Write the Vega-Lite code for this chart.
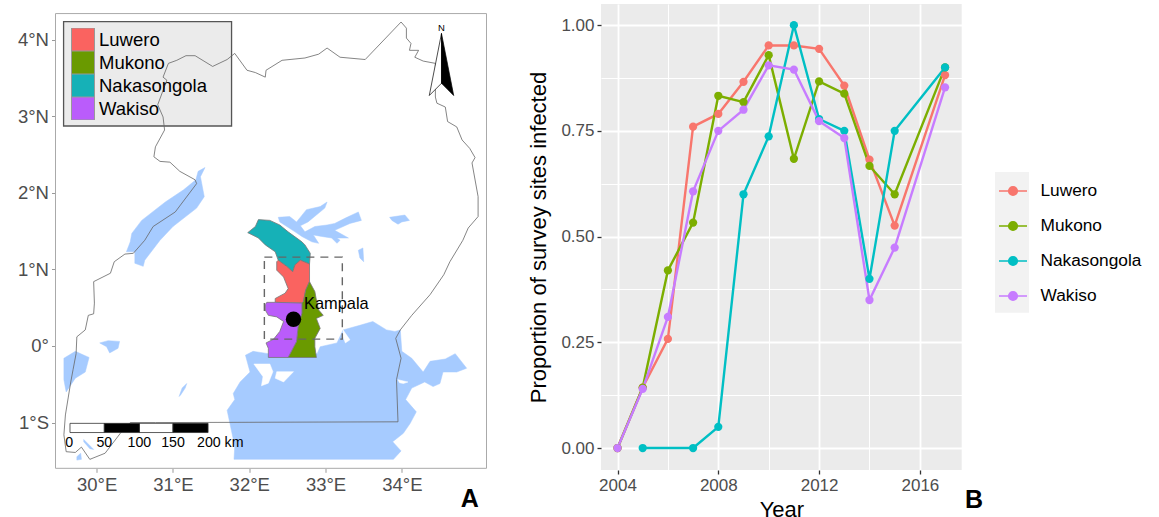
{
"$schema":"https://vega.github.io/schema/vega-lite/v6.json",
"padding":{"left":16.5,"top":4,"right":0,"bottom":0},
"background":"white",
"bounds":"flush",
"spacing":114.5,
"config":{"font":"Liberation Sans","view":{"stroke":null},"axis":{"labelFont":"Liberation Sans","titleFont":"Liberation Sans"},"legend":{"labelFont":"Liberation Sans"}},
"datasets":{
"country":[
{"id":"u","lon":31.81,"lat":3.82},{"id":"u","lon":31.97,"lat":3.60},{"id":"u","lon":32.08,"lat":3.57},{"id":"u","lon":32.21,"lat":3.51},{"id":"u","lon":32.22,"lat":3.60},{"id":"u","lon":32.43,"lat":3.73},{"id":"u","lon":32.73,"lat":3.76},{"id":"u","lon":32.91,"lat":3.81},{"id":"u","lon":33.02,"lat":3.89},{"id":"u","lon":33.19,"lat":3.77},{"id":"u","lon":33.52,"lat":3.74},{"id":"u","lon":33.99,"lat":4.23},{"id":"u","lon":34.06,"lat":4.15},{"id":"u","lon":34.06,"lat":4.02},{"id":"u","lon":34.12,"lat":3.95},{"id":"u","lon":34.10,"lat":3.86},{"id":"u","lon":34.22,"lat":3.86},{"id":"u","lon":34.17,"lat":3.77},{"id":"u","lon":34.28,"lat":3.72},{"id":"u","lon":34.44,"lat":3.69},{"id":"u","lon":34.44,"lat":3.25},{"id":"u","lon":34.46,"lat":3.17},{"id":"u","lon":34.57,"lat":3.12},{"id":"u","lon":34.60,"lat":2.93},{"id":"u","lon":34.72,"lat":2.86},{"id":"u","lon":34.79,"lat":2.69},{"id":"u","lon":34.89,"lat":2.58},{"id":"u","lon":34.96,"lat":2.46},{"id":"u","lon":34.92,"lat":2.39},{"id":"u","lon":35.00,"lat":1.95},{"id":"u","lon":35.00,"lat":1.69},{"id":"u","lon":34.87,"lat":1.54},{"id":"u","lon":34.80,"lat":1.38},{"id":"u","lon":34.63,"lat":1.10},{"id":"u","lon":34.55,"lat":0.93},{"id":"u","lon":34.37,"lat":0.67},{"id":"u","lon":34.13,"lat":0.40},{"id":"u","lon":33.98,"lat":0.21},{"id":"u","lon":33.92,"lat":0.10},{"id":"u","lon":33.99,"lat":-0.16},{"id":"u","lon":33.93,"lat":-0.44},{"id":"u","lon":33.95,"lat":-0.99},{"id":"u","lon":30.77,"lat":-1.00},{"id":"u","lon":30.44,"lat":-1.00},{"id":"u","lon":30.31,"lat":-1.14},{"id":"u","lon":30.11,"lat":-1.40},{"id":"u","lon":29.91,"lat":-1.48},{"id":"u","lon":29.80,"lat":-1.32},{"id":"u","lon":29.72,"lat":-1.39},{"id":"u","lon":29.60,"lat":-1.38},{"id":"u","lon":29.57,"lat":-1.16},{"id":"u","lon":29.59,"lat":-0.90},{"id":"u","lon":29.66,"lat":-0.47},{"id":"u","lon":29.69,"lat":-0.31},{"id":"u","lon":29.73,"lat":-0.10},{"id":"u","lon":29.74,"lat":0.12},{"id":"u","lon":29.85,"lat":0.21},{"id":"u","lon":29.89,"lat":0.40},{"id":"u","lon":29.96,"lat":0.42},{"id":"u","lon":29.97,"lat":0.56},{"id":"u","lon":29.96,"lat":0.84},{"id":"u","lon":30.18,"lat":0.95},{"id":"u","lon":30.23,"lat":1.10},{"id":"u","lon":30.37,"lat":1.20},{"id":"u","lon":30.48,"lat":1.21},{"id":"u","lon":30.63,"lat":1.38},{"id":"u","lon":30.74,"lat":1.56},{"id":"u","lon":31.03,"lat":1.75},{"id":"u","lon":31.31,"lat":2.12},{"id":"u","lon":31.29,"lat":2.17},{"id":"u","lon":31.09,"lat":2.28},{"id":"u","lon":30.96,"lat":2.40},{"id":"u","lon":30.83,"lat":2.41},{"id":"u","lon":30.75,"lat":2.47},{"id":"u","lon":30.77,"lat":2.60},{"id":"u","lon":30.89,"lat":2.82},{"id":"u","lon":30.87,"lat":2.99},{"id":"u","lon":30.80,"lat":3.15},{"id":"u","lon":30.92,"lat":3.47},{"id":"u","lon":30.87,"lat":3.51},{"id":"u","lon":30.94,"lat":3.69},{"id":"u","lon":31.05,"lat":3.73},{"id":"u","lon":31.17,"lat":3.79},{"id":"u","lon":31.29,"lat":3.79},{"id":"u","lon":31.52,"lat":3.65},{"id":"u","lon":31.71,"lat":3.74}
],
"lakes":[
{"id":"albert","lon":31.42,"lat":2.33},{"id":"albert","lon":31.36,"lat":2.21},{"id":"albert","lon":31.41,"lat":1.95},{"id":"albert","lon":31.31,"lat":1.80},{"id":"albert","lon":31.00,"lat":1.56},{"id":"albert","lon":30.83,"lat":1.38},{"id":"albert","lon":30.63,"lat":1.12},{"id":"albert","lon":30.61,"lat":1.04},{"id":"albert","lon":30.50,"lat":1.08},{"id":"albert","lon":30.50,"lat":1.23},{"id":"albert","lon":30.39,"lat":1.23},{"id":"albert","lon":30.44,"lat":1.36},{"id":"albert","lon":30.46,"lat":1.47},{"id":"albert","lon":30.59,"lat":1.64},{"id":"albert","lon":30.90,"lat":1.88},{"id":"albert","lon":31.14,"lat":2.04},{"id":"albert","lon":31.30,"lat":2.17},{"id":"albert","lon":31.33,"lat":2.28},
{"id":"edward","lon":29.57,"lat":-0.16},{"id":"edward","lon":29.72,"lat":-0.07},{"id":"edward","lon":29.90,"lat":-0.15},{"id":"edward","lon":29.85,"lat":-0.34},{"id":"edward","lon":29.72,"lat":-0.42},{"id":"edward","lon":29.60,"lat":-0.60},{"id":"edward","lon":29.57,"lat":-0.44},
{"id":"george","lon":30.04,"lat":0.04},{"id":"george","lon":30.15,"lat":0.07},{"id":"george","lon":30.30,"lat":0.06},{"id":"george","lon":30.28,"lat":-0.03},{"id":"george","lon":30.17,"lat":-0.09},{"id":"george","lon":30.13,"lat":-0.01},
{"id":"slit","lon":31.18,"lat":-0.49},{"id":"slit","lon":31.12,"lat":-0.55},{"id":"slit","lon":31.08,"lat":-0.66},{"id":"slit","lon":31.10,"lat":-0.64},{"id":"slit","lon":31.16,"lat":-0.55},
{"id":"sw1","lon":29.74,"lat":-1.445},{"id":"sw1","lon":29.79,"lat":-1.40},{"id":"sw1","lon":29.80,"lat":-1.48},{"id":"sw1","lon":29.74,"lat":-1.49},
{"id":"sw2","lon":29.83,"lat":-1.22},{"id":"sw2","lon":29.96,"lat":-1.35},{"id":"sw2","lon":29.91,"lat":-1.34},{"id":"sw2","lon":29.83,"lat":-1.25},
{"id":"victoria","lon":31.80,"lat":-1.48},{"id":"victoria","lon":31.81,"lat":-1.31},{"id":"victoria","lon":31.71,"lat":-0.84},{"id":"victoria","lon":31.81,"lat":-0.70},{"id":"victoria","lon":31.79,"lat":-0.62},{"id":"victoria","lon":31.88,"lat":-0.47},{"id":"victoria","lon":32.01,"lat":-0.34},{"id":"victoria","lon":31.95,"lat":-0.12},{"id":"victoria","lon":32.05,"lat":-0.07},{"id":"victoria","lon":32.25,"lat":-0.10},{"id":"victoria","lon":32.89,"lat":-0.10},{"id":"victoria","lon":32.93,"lat":-0.01},{"id":"victoria","lon":33.15,"lat":0.04},{"id":"victoria","lon":33.23,"lat":0.21},{"id":"victoria","lon":33.45,"lat":0.27},{"id":"victoria","lon":33.62,"lat":0.32},{"id":"victoria","lon":33.80,"lat":0.21},{"id":"victoria","lon":33.91,"lat":0.19},{"id":"victoria","lon":33.98,"lat":0.21},{"id":"victoria","lon":34.00,"lat":-0.07},{"id":"victoria","lon":34.13,"lat":-0.16},{"id":"victoria","lon":34.28,"lat":-0.34},{"id":"victoria","lon":34.37,"lat":-0.20},{"id":"victoria","lon":34.57,"lat":-0.17},{"id":"victoria","lon":34.70,"lat":-0.10},{"id":"victoria","lon":34.85,"lat":-0.29},{"id":"victoria","lon":34.72,"lat":-0.34},{"id":"victoria","lon":34.54,"lat":-0.34},{"id":"victoria","lon":34.50,"lat":-0.49},{"id":"victoria","lon":34.41,"lat":-0.53},{"id":"victoria","lon":34.30,"lat":-0.47},{"id":"victoria","lon":34.13,"lat":-0.55},{"id":"victoria","lon":34.05,"lat":-0.70},{"id":"victoria","lon":34.19,"lat":-0.86},{"id":"victoria","lon":34.11,"lat":-1.01},{"id":"victoria","lon":34.02,"lat":-1.14},{"id":"victoria","lon":33.88,"lat":-1.25},{"id":"victoria","lon":33.99,"lat":-1.37},{"id":"victoria","lon":33.89,"lat":-1.48},
{"id":"kyoga","lon":32.38,"lat":1.68},{"id":"kyoga","lon":32.53,"lat":1.69},{"id":"kyoga","lon":32.62,"lat":1.62},{"id":"kyoga","lon":32.75,"lat":1.78},{"id":"kyoga","lon":32.93,"lat":1.82},{"id":"kyoga","lon":33.02,"lat":1.88},{"id":"kyoga","lon":32.99,"lat":1.80},{"id":"kyoga","lon":32.88,"lat":1.71},{"id":"kyoga","lon":32.77,"lat":1.62},{"id":"kyoga","lon":32.67,"lat":1.57},{"id":"kyoga","lon":32.73,"lat":1.49},{"id":"kyoga","lon":32.86,"lat":1.56},{"id":"kyoga","lon":33.02,"lat":1.58},{"id":"kyoga","lon":33.12,"lat":1.60},{"id":"kyoga","lon":33.26,"lat":1.67},{"id":"kyoga","lon":33.43,"lat":1.75},{"id":"kyoga","lon":33.47,"lat":1.64},{"id":"kyoga","lon":33.32,"lat":1.60},{"id":"kyoga","lon":33.12,"lat":1.51},{"id":"kyoga","lon":33.30,"lat":1.41},{"id":"kyoga","lon":33.15,"lat":1.41},{"id":"kyoga","lon":33.19,"lat":1.38},{"id":"kyoga","lon":33.15,"lat":1.34},{"id":"kyoga","lon":33.08,"lat":1.41},{"id":"kyoga","lon":32.95,"lat":1.43},{"id":"kyoga","lon":32.84,"lat":1.45},{"id":"kyoga","lon":32.91,"lat":1.34},{"id":"kyoga","lon":32.82,"lat":1.36},{"id":"kyoga","lon":32.69,"lat":1.43},{"id":"kyoga","lon":32.60,"lat":1.49},{"id":"kyoga","lon":32.40,"lat":1.62},
{"id":"small1","lon":33.43,"lat":1.25},{"id":"small1","lon":33.49,"lat":1.28},{"id":"small1","lon":33.50,"lat":1.10},{"id":"small1","lon":33.45,"lat":1.15},
{"id":"small2","lon":33.84,"lat":1.68},{"id":"small2","lon":34.04,"lat":1.71},{"id":"small2","lon":34.10,"lat":1.64},{"id":"small2","lon":34.00,"lat":1.62},{"id":"small2","lon":33.95,"lat":1.59},{"id":"small2","lon":33.87,"lat":1.64}
],
"islands":[
{"id":"a","lon":32.06,"lat":-0.235},{"id":"a","lon":32.27,"lat":-0.235},{"id":"a","lon":32.31,"lat":-0.335},{"id":"a","lon":32.25,"lat":-0.485},{"id":"a","lon":32.16,"lat":-0.52},{"id":"a","lon":32.18,"lat":-0.40},
{"id":"b","lon":32.36,"lat":-0.335},{"id":"b","lon":32.58,"lat":-0.335},{"id":"b","lon":32.45,"lat":-0.47},{"id":"b","lon":32.34,"lat":-0.42},
{"id":"c","lon":33.95,"lat":-0.44},{"id":"c","lon":34.08,"lat":-0.47},{"id":"c","lon":34.02,"lat":-0.49},{"id":"c","lon":33.97,"lat":-0.48},
{"id":"e","lon":33.23,"lat":0.21},{"id":"e","lon":33.32,"lat":0.08},{"id":"e","lon":33.26,"lat":0.04},{"id":"e","lon":33.23,"lat":0.12}
],
"districts":[
{"name":"Nakasongola","lon":31.98,"lat":1.48},{"name":"Nakasongola","lon":32.08,"lat":1.56},{"name":"Nakasongola","lon":32.12,"lat":1.65},{"name":"Nakasongola","lon":32.27,"lat":1.64},{"name":"Nakasongola","lon":32.40,"lat":1.58},{"name":"Nakasongola","lon":32.51,"lat":1.49},{"name":"Nakasongola","lon":32.69,"lat":1.36},{"name":"Nakasongola","lon":32.73,"lat":1.32},{"name":"Nakasongola","lon":32.80,"lat":1.21},{"name":"Nakasongola","lon":32.79,"lat":1.07},{"name":"Nakasongola","lon":32.67,"lat":1.12},{"name":"Nakasongola","lon":32.60,"lat":1.06},{"name":"Nakasongola","lon":32.57,"lat":0.97},{"name":"Nakasongola","lon":32.49,"lat":1.04},{"name":"Nakasongola","lon":32.38,"lat":1.12},{"name":"Nakasongola","lon":32.34,"lat":1.23},{"name":"Nakasongola","lon":32.21,"lat":1.32},{"name":"Nakasongola","lon":32.12,"lat":1.41},
{"name":"Luwero","lon":32.36,"lat":1.10},{"name":"Luwero","lon":32.38,"lat":1.12},{"name":"Luwero","lon":32.49,"lat":1.04},{"name":"Luwero","lon":32.57,"lat":0.97},{"name":"Luwero","lon":32.60,"lat":1.06},{"name":"Luwero","lon":32.67,"lat":1.12},{"name":"Luwero","lon":32.79,"lat":1.07},{"name":"Luwero","lon":32.79,"lat":0.84},{"name":"Luwero","lon":32.74,"lat":0.73},{"name":"Luwero","lon":32.71,"lat":0.58},{"name":"Luwero","lon":32.69,"lat":0.56},{"name":"Luwero","lon":32.34,"lat":0.57},{"name":"Luwero","lon":32.34,"lat":0.62},{"name":"Luwero","lon":32.47,"lat":0.69},{"name":"Luwero","lon":32.51,"lat":0.75},{"name":"Luwero","lon":32.45,"lat":0.90},{"name":"Luwero","lon":32.36,"lat":0.99},
{"name":"Mukono","lon":32.79,"lat":0.84},{"name":"Mukono","lon":32.86,"lat":0.71},{"name":"Mukono","lon":32.88,"lat":0.60},{"name":"Mukono","lon":32.91,"lat":0.47},{"name":"Mukono","lon":32.97,"lat":0.40},{"name":"Mukono","lon":32.88,"lat":0.36},{"name":"Mukono","lon":32.93,"lat":0.23},{"name":"Mukono","lon":32.86,"lat":0.10},{"name":"Mukono","lon":32.86,"lat":-0.01},{"name":"Mukono","lon":32.88,"lat":-0.15},{"name":"Mukono","lon":32.51,"lat":-0.15},{"name":"Mukono","lon":32.62,"lat":0.06},{"name":"Mukono","lon":32.64,"lat":0.25},{"name":"Mukono","lon":32.69,"lat":0.43},{"name":"Mukono","lon":32.69,"lat":0.56},{"name":"Mukono","lon":32.71,"lat":0.58},{"name":"Mukono","lon":32.74,"lat":0.73},
{"name":"Wakiso","lon":32.21,"lat":0.54},{"name":"Wakiso","lon":32.23,"lat":0.57},{"name":"Wakiso","lon":32.34,"lat":0.57},{"name":"Wakiso","lon":32.69,"lat":0.56},{"name":"Wakiso","lon":32.69,"lat":0.43},{"name":"Wakiso","lon":32.64,"lat":0.25},{"name":"Wakiso","lon":32.62,"lat":0.06},{"name":"Wakiso","lon":32.51,"lat":-0.15},{"name":"Wakiso","lon":32.25,"lat":-0.15},{"name":"Wakiso","lon":32.25,"lat":-0.03},{"name":"Wakiso","lon":32.22,"lat":0.04},{"name":"Wakiso","lon":32.32,"lat":0.09},{"name":"Wakiso","lon":32.40,"lat":0.19},{"name":"Wakiso","lon":32.45,"lat":0.32},{"name":"Wakiso","lon":32.36,"lat":0.38},{"name":"Wakiso","lon":32.25,"lat":0.40},{"name":"Wakiso","lon":32.21,"lat":0.47}
],
"survey":[
{"district":"Luwero","year":2004,"p":0},{"district":"Luwero","year":2005,"p":0.143},{"district":"Luwero","year":2006,"p":0.258},{"district":"Luwero","year":2007,"p":0.76},{"district":"Luwero","year":2008,"p":0.79},{"district":"Luwero","year":2009,"p":0.866},{"district":"Luwero","year":2010,"p":0.952},{"district":"Luwero","year":2011,"p":0.952},{"district":"Luwero","year":2012,"p":0.944},{"district":"Luwero","year":2013,"p":0.857},{"district":"Luwero","year":2014,"p":0.682},{"district":"Luwero","year":2015,"p":0.526},{"district":"Luwero","year":2017,"p":0.882},
{"district":"Mukono","year":2004,"p":0},{"district":"Mukono","year":2005,"p":0.143},{"district":"Mukono","year":2006,"p":0.42},{"district":"Mukono","year":2007,"p":0.533},{"district":"Mukono","year":2008,"p":0.833},{"district":"Mukono","year":2009,"p":0.818},{"district":"Mukono","year":2010,"p":0.929},{"district":"Mukono","year":2011,"p":0.684},{"district":"Mukono","year":2012,"p":0.867},{"district":"Mukono","year":2013,"p":0.838},{"district":"Mukono","year":2014,"p":0.667},{"district":"Mukono","year":2015,"p":0.6},{"district":"Mukono","year":2017,"p":0.9},
{"district":"Nakasongola","year":2005,"p":0},{"district":"Nakasongola","year":2007,"p":0},{"district":"Nakasongola","year":2008,"p":0.05},{"district":"Nakasongola","year":2009,"p":0.6},{"district":"Nakasongola","year":2010,"p":0.737},{"district":"Nakasongola","year":2011,"p":1},{"district":"Nakasongola","year":2012,"p":0.778},{"district":"Nakasongola","year":2013,"p":0.75},{"district":"Nakasongola","year":2014,"p":0.4},{"district":"Nakasongola","year":2015,"p":0.75},{"district":"Nakasongola","year":2017,"p":0.9},
{"district":"Wakiso","year":2004,"p":0},{"district":"Wakiso","year":2005,"p":0.14},{"district":"Wakiso","year":2006,"p":0.31},{"district":"Wakiso","year":2007,"p":0.607},{"district":"Wakiso","year":2008,"p":0.75},{"district":"Wakiso","year":2009,"p":0.8},{"district":"Wakiso","year":2010,"p":0.905},{"district":"Wakiso","year":2011,"p":0.895},{"district":"Wakiso","year":2012,"p":0.773},{"district":"Wakiso","year":2013,"p":0.733},{"district":"Wakiso","year":2014,"p":0.35},{"district":"Wakiso","year":2015,"p":0.474},{"district":"Wakiso","year":2017,"p":0.853}
]
},
"hconcat":[
{
"width":431,"height":466,
"encoding":{
"x":{"field":"lon","type":"quantitative","scale":{"domain":[29.46,35.11],"nice":false,"zero":false},"axis":{"title":null,"values":[30,31,32,33,34],"labelExpr":"datum.value+'°E'","domain":false,"grid":false,"offset":-1.7,"tickColor":"#999999","tickSize":4,"tickWidth":1,"labelColor":"#4d4d4d","labelFontSize":18.5,"labelPadding":3}},
"y":{"field":"lat","type":"quantitative","scale":{"domain":[-1.619,4.465],"nice":false,"zero":false},"axis":{"title":null,"values":[-1,0,1,2,3,4],"labelExpr":"datum.value>0?datum.value+'°N':datum.value<0?(-datum.value)+'°S':'0°'","domain":false,"grid":false,"tickColor":"#999999","tickSize":4,"tickWidth":1,"labelColor":"#4d4d4d","labelFontSize":18.5,"labelPadding":3}}
},
"layer":[
{"data":{"values":[{"lon":29.46,"lon2":35.11,"lat":-1.597,"lat2":4.34}]},"mark":{"type":"rect","fill":"white","stroke":"#aaaaaa","strokeWidth":1},"encoding":{"x2":{"field":"lon2"},"y2":{"field":"lat2"}}},
{"data":{"values":[{"lon":29.566,"lon2":31.768,"lat":4.236,"lat2":2.872}]},"mark":{"type":"rect","fill":"#ebebeb","stroke":"#555555","strokeWidth":1.3},"encoding":{"x2":{"field":"lon2"},"y2":{"field":"lat2"}}},
{"data":{"name":"lakes"},"mark":{"type":"line","interpolate":"linear-closed","fill":"#a6cbff","stroke":"#a6cbff","strokeWidth":0.5},"encoding":{"detail":{"field":"id"},"order":{"value":null}}},
{"data":{"name":"islands"},"mark":{"type":"line","interpolate":"linear-closed","fill":"white","stroke":"white","strokeWidth":0.5},"encoding":{"detail":{"field":"id"},"order":{"value":null}}},
{"data":{"name":"country"},"mark":{"type":"line","interpolate":"linear-closed","stroke":"#666666","strokeWidth":0.8},"encoding":{"detail":{"field":"id"},"order":{"value":null}}},
{"data":{"name":"districts"},"mark":{"type":"line","interpolate":"linear-closed","stroke":"#777777","strokeWidth":0.8},"encoding":{"detail":{"field":"name"},"order":{"value":null},"fill":{"field":"name","type":"nominal","scale":{"domain":["Luwero","Mukono","Nakasongola","Wakiso"],"range":["#fa6360","#6a9a00","#16b1b7","#ba5cfb"]},"legend":{"title":null,"orient":"none","legendX":15.5,"legendY":24,"symbolType":"square","symbolSize":529,"symbolStrokeColor":"#999999","symbolStrokeWidth":1,"labelFontSize":18.5,"labelColor":"black","labelOffset":4,"clipHeight":23,"rowPadding":0,"padding":0,"labelLimit":200}}}},
{"data":{"values":[{"lon":32.198,"lon2":33.22,"lat":1.16,"lat2":0.09}]},"mark":{"type":"rect","fill":null,"stroke":"#666666","strokeWidth":1.4,"strokeDash":[8,6]},"encoding":{"x2":{"field":"lon2"},"y2":{"field":"lat2"}}},
{"data":{"values":[{"lon":32.58,"lat":0.35}]},"mark":{"type":"point","filled":true,"shape":"circle","size":237,"color":"black","opacity":1}},
{"data":{"values":[{"lon":32.718,"lat":0.548,"label":"Kampala"}]},"mark":{"type":"text","align":"left","baseline":"middle","fontSize":16.4,"color":"black"},"encoding":{"text":{"field":"label"}}},
{"data":{"values":[{"lon":29.65,"lon2":30.10,"lat":-1.01,"lat2":-1.13},{"lon":30.56,"lon2":31.00,"lat":-1.01,"lat2":-1.13}]},"mark":{"type":"rect","fill":"white","stroke":"#333333","strokeWidth":0.8},"encoding":{"x2":{"field":"lon2"},"y2":{"field":"lat2"}}},
{"data":{"values":[{"lon":30.10,"lon2":30.56,"lat":-1.01,"lat2":-1.13},{"lon":31.00,"lon2":31.46,"lat":-1.01,"lat2":-1.13}]},"mark":{"type":"rect","fill":"black","stroke":"#333333","strokeWidth":0.8},"encoding":{"x2":{"field":"lon2"},"y2":{"field":"lat2"}}},
{"data":{"values":[{"lon":29.64,"lat":-1.26,"label":"0"},{"lon":30.10,"lat":-1.26,"label":"50"},{"lon":30.56,"lat":-1.26,"label":"100"},{"lon":31.00,"lat":-1.26,"label":"150"},{"lon":31.62,"lat":-1.26,"label":"200 km"}]},"mark":{"type":"text","baseline":"middle","fontSize":14.2,"color":"black"},"encoding":{"text":{"field":"label"}}},
{"data":{"values":[{"lon":34.52,"lat":4.08},{"lon":34.36,"lat":3.27},{"lon":34.52,"lat":3.43}]},"mark":{"type":"line","interpolate":"linear-closed","fill":"white","stroke":"black","strokeWidth":0.7},"encoding":{"order":{"value":null}}},
{"data":{"values":[{"lon":34.52,"lat":4.08},{"lon":34.68,"lat":3.27},{"lon":34.52,"lat":3.43}]},"mark":{"type":"line","interpolate":"linear-closed","fill":"black","stroke":"black","strokeWidth":0.7},"encoding":{"order":{"value":null}}},
{"data":{"values":[{"lon":34.52,"lat":4.15,"label":"N"}]},"mark":{"type":"text","baseline":"middle","fontSize":9.5,"color":"black"},"encoding":{"text":{"field":"label"}}},
{"data":{"values":[{"lon":34.89,"lat":-2.0,"label":"A"}]},"mark":{"type":"text","baseline":"middle","fontSize":25,"fontWeight":"bold","color":"black"},"encoding":{"text":{"field":"label"}}}
]
},
{
"width":360.7,"height":466,
"view":{"fill":"#ebebeb","stroke":null},
"layer":[
{"data":{"values":[{"a":2018.98,"b":2020.33,"c":0.32,"d":0.653}]},"mark":{"type":"rect","fill":"#f2f2f2"},"encoding":{"x":{"field":"a","type":"quantitative"},"x2":{"field":"b"},"y":{"field":"c","type":"quantitative"},"y2":{"field":"d"}}},
{"data":{"name":"survey"},"mark":{"type":"line","strokeWidth":2.4},"encoding":{"x":{"field":"year","type":"quantitative"},"y":{"field":"p","type":"quantitative"},"color":{"field":"district","type":"nominal","scale":{"domain":["Luwero","Mukono","Nakasongola","Wakiso"],"range":["#F8766D","#7CAE00","#00BFC4","#C77CFF"]},"legend":{"title":null,"orient":"none","legendX":397,"legendY":172,"symbolType":"M-1,0L-0.31,0A0.31,0.31,0,1,1,0.31,0L1,0M0.31,0A0.31,0.31,0,1,1,-0.31,0","symbolSize":784,"symbolStrokeWidth":1.5,"labelFontSize":17.3,"labelColor":"black","labelOffset":12.5,"rowPadding":11,"padding":0,"labelLimit":200}}}},
{"data":{"name":"survey"},"mark":{"type":"point","filled":true,"shape":"circle","size":68,"opacity":1},"encoding":{"x":{"field":"year","type":"quantitative"},"y":{"field":"p","type":"quantitative"},"color":{"field":"district","type":"nominal","scale":{"domain":["Luwero","Mukono","Nakasongola","Wakiso"],"range":["#F8766D","#7CAE00","#00BFC4","#C77CFF"]},"legend":{"title":null,"orient":"none","legendX":397,"legendY":172,"symbolType":"M-1,0L-0.31,0A0.31,0.31,0,1,1,0.31,0L1,0M0.31,0A0.31,0.31,0,1,1,-0.31,0","symbolSize":784,"symbolStrokeWidth":1.5,"labelFontSize":17.3,"labelColor":"black","labelOffset":12.5,"rowPadding":11,"padding":0,"labelLimit":200}}}},
{"data":{"values":[{"a":2018.15,"c":-0.123,"label":"B"}]},"mark":{"type":"text","baseline":"middle","fontSize":25,"fontWeight":"bold","color":"black"},"encoding":{"x":{"field":"a","type":"quantitative"},"y":{"field":"c","type":"quantitative"},"text":{"field":"label"}}}
],
"encoding":{
"x":{"scale":{"domain":[2003.345,2017.66],"nice":false,"zero":false},"axis":{"title":"Year","values":[2004,2006,2008,2010,2012,2014,2016],"labelExpr":"datum.value%4===0?datum.value:''","domain":false,"grid":true,"gridColor":"white","gridWidth":{"condition":{"test":"datum.value%4===0","value":1.8},"value":1},"tickColor":"#333333","tickWidth":1.3,"tickSize":{"condition":{"test":"datum.value%4===0","value":4},"value":0},"labelColor":"#4d4d4d","labelFontSize":17,"labelPadding":3,"titleFontSize":22,"titleFontWeight":"normal","titleColor":"black","titlePadding":6}},
"y":{"scale":{"domain":[-0.052,1.05],"nice":false,"zero":false},"axis":{"title":"Proportion of survey sites infected","values":[0,0.125,0.25,0.375,0.5,0.625,0.75,0.875,1],"labelExpr":"datum.value*4%1===0?format(datum.value,'.2f'):''","domain":false,"grid":true,"gridColor":"white","gridWidth":{"condition":{"test":"datum.value*4%1===0","value":1.8},"value":1},"tickColor":"#333333","tickWidth":1.3,"tickSize":{"condition":{"test":"datum.value*4%1===0","value":4},"value":0},"labelColor":"#4d4d4d","labelFontSize":17,"labelPadding":3,"titleFontSize":22,"titleFontWeight":"normal","titleColor":"black","titlePadding":10}}
}
}
],
"resolve":{"scale":{"x":"independent","y":"independent","color":"independent","fill":"independent"}}
}
